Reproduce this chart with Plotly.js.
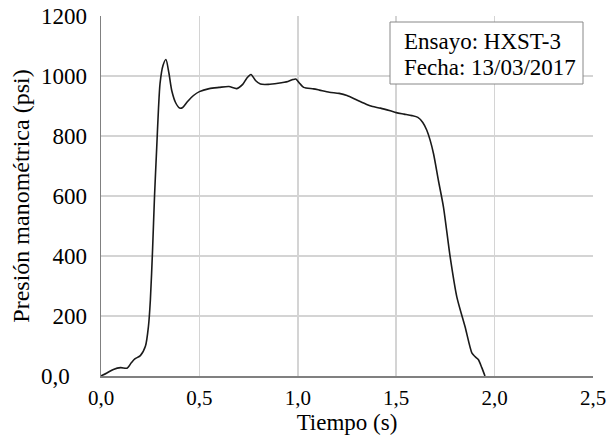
<!DOCTYPE html>
<html>
<head>
<meta charset="utf-8">
<script src="https://cdn.plot.ly/plotly-3.0.1.min.js"></script>
<style>html,body{margin:0;padding:0;background:#fff;}#chart{width:610px;height:436px;}</style>
</head>
<body>
<div id="chart"></div>
<script>
const tiempo = [0, 0.03, 0.063, 0.1, 0.132, 0.155, 0.172, 0.2, 0.226, 0.241, 0.251, 0.262, 0.272, 0.283, 0.292, 0.3, 0.315, 0.33, 0.345, 0.36, 0.38, 0.4, 0.415, 0.44, 0.47, 0.5, 0.55, 0.6, 0.65, 0.69, 0.72, 0.74, 0.762, 0.785, 0.81, 0.85, 0.9, 0.95, 0.975, 0.99, 1.01, 1.03, 1.08, 1.11, 1.16, 1.21, 1.25, 1.3, 1.35, 1.38, 1.42, 1.47, 1.5, 1.54, 1.58, 1.61, 1.635, 1.655, 1.672, 1.69, 1.715, 1.74, 1.774, 1.808, 1.85, 1.885, 1.9, 1.917, 1.935, 1.951];
const presion = [0, 10, 22, 28, 26, 45, 57, 68, 100, 165, 255, 420, 600, 760, 890, 975, 1035, 1055, 1010, 950, 910, 893, 895, 915, 935, 948, 958, 962, 965, 958, 972, 992, 1005, 985, 973, 972, 976, 982, 988, 990, 975, 962, 957, 953, 946, 942, 935, 920, 905, 898, 893, 884, 878, 873, 868, 862, 845, 820, 787, 740, 650, 564, 398, 264, 164, 76, 65, 55, 28, 0];
const xTickVals = [0, 0.5, 1, 1.5, 2, 2.5];
const xTickText = ["0,0", "0,5", "1,0", "1,5", "2,0", "2,5"];
const yTickVals = [0, 200, 400, 600, 800, 1000, 1200];
const yTickText = ["0,0\u00A0\u00A0\u00A0", "200", "400", "600", "800", "1000", "1200"];
const infoLines = ["Ensayo: HXST-3", "Fecha: 13/03/2017"];

const serif = "Liberation Serif, Times New Roman, serif";
const data = [{
  x: tiempo, y: presion, type: "scatter", mode: "lines",
  line: {color: "#1a1a1a", width: 1.6, shape: "spline", smoothing: 0.7},
  hoverinfo: "skip"
}];
const lineY = [0.9278, 0.858];
const layout = {
  width: 610, height: 436,
  margin: {l: 101, r: 17, t: 16, b: 60},
  paper_bgcolor: "#fff", plot_bgcolor: "#fff",
  showlegend: false,
  font: {family: serif, size: 22, color: "#000"},
  xaxis: {
    range: [0, 2.5], tickvals: xTickVals, ticktext: xTickText,
    showgrid: true, gridcolor: "#d4d4d4", gridwidth: 1.5,
    zeroline: false, showline: true, linecolor: "#808080", linewidth: 1.5,
    ticks: "", ticklabelstandoff: 2,
    tickfont: {family: serif, size: 21, color: "#000"},
    title: {text: "Tiempo (s)", font: {family: serif, size: 23, color: "#000"}, standoff: 3},
    fixedrange: true
  },
  yaxis: {
    range: [0, 1200], tickvals: yTickVals, ticktext: yTickText,
    showgrid: true, gridcolor: "#d4d4d4", gridwidth: 1.5,
    zeroline: false, showline: true, linecolor: "#808080", linewidth: 1.5,
    ticks: "", ticklabelstandoff: 8,
    tickfont: {family: serif, size: 23, color: "#000"},
    title: {text: "Presión manométrica (psi)", font: {family: serif, size: 24, color: "#000"}, standoff: 4},
    fixedrange: true
  },
  shapes: [{
    type: "rect", xref: "paper", yref: "paper",
    x0: 0.5874, x1: 0.9797, y0: 0.8111, y1: 0.9833,
    line: {color: "#888", width: 1}, fillcolor: "#fff", layer: "above"
  }],
  annotations: infoLines.map((t, i) => ({
    xref: "paper", yref: "paper", x: 0.611, y: lineY[i], xanchor: "left", yanchor: "middle",
    text: t, align: "left", showarrow: false,
    font: {family: serif, size: 23, color: "#000"}
  }))
};
Plotly.newPlot("chart", data, layout, {displayModeBar: false, staticPlot: true});
</script>
</body>
</html>
